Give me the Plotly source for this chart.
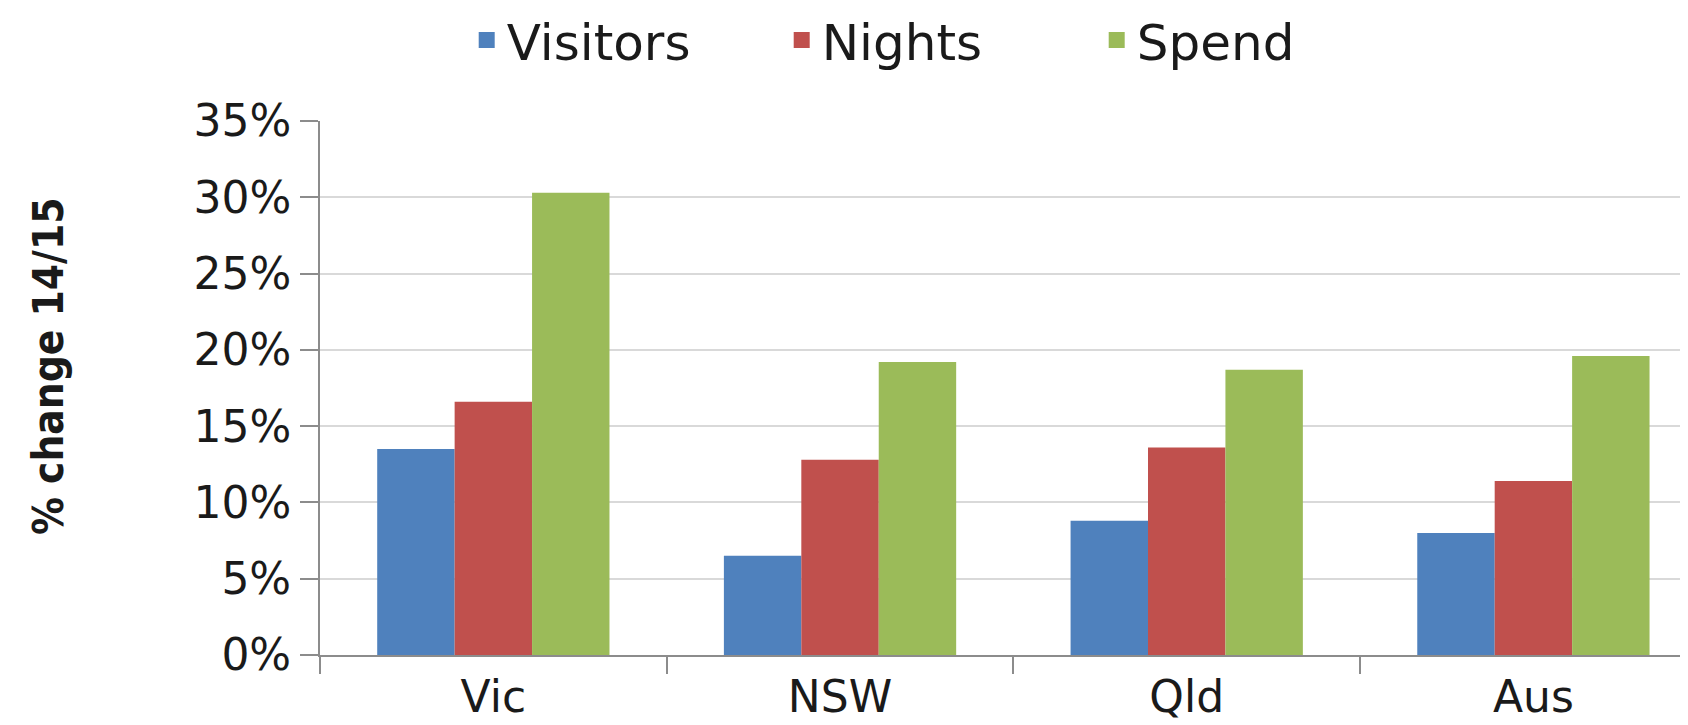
import plotly.graph_objects as go

categories = ["Vic", "NSW", "Qld", "Aus"]
series_names = ["Visitors", "Nights", "Spend"]
visitors = [0.135, 0.065, 0.088, 0.080]
nights = [0.166, 0.128, 0.136, 0.114]
spend = [0.303, 0.192, 0.187, 0.196]
colors = ["#4F81BD", "#C0504D", "#9BBB59"]
y_title = "% change 14/15"

W, H = 1688, 725
L, R, T, B = 312, 0, 113, 78

fig = go.Figure()
for name, vals, col in zip(series_names, [visitors, nights, spend], colors):
    fig.add_trace(go.Bar(x=categories, y=vals, name=name, marker=dict(color=col, line=dict(width=0)),
                         showlegend=False))
# legend proxies (bigger square swatches)
for name, col in zip(series_names, colors):
    fig.add_trace(go.Scatter(x=[None], y=[None], mode="markers", name=name,
                             marker=dict(symbol="square", size=16, color=col)))

fig.update_layout(
    width=W, height=H,
    margin=dict(l=L, r=R, t=T, b=B, autoexpand=False),
    paper_bgcolor="white", plot_bgcolor="white",
    barmode="group", bargap=0.33, bargroupgap=0,
    font=dict(family="DejaVu Sans, Liberation Sans, Arial, sans-serif", color="#1a1a1a"),
    legend=dict(orientation="h", x=0.45, xanchor="center",
                yref="container", y=1 - 32 / H, yanchor="middle",
                font=dict(size=50, color="#1a1a1a"),
                entrywidthmode="pixels", entrywidth=270,
                itemsizing="trace", traceorder="normal"),
    showlegend=True,
)

fig.update_xaxes(
    range=[-0.5, 3.469],
    showline=True, linecolor="#8c8c8c", linewidth=2,
    ticks="outside", tickson="boundaries", ticklen=17, tickwidth=2, tickcolor="#8c8c8c",
    showgrid=False,
    tickfont=dict(size=44, color="#1a1a1a"),
    ticklabelstandoff=2,
)
fig.update_yaxes(
    range=[0, 0.35], dtick=0.05, tickformat=".0%",
    showline=True, linecolor="#8c8c8c", linewidth=2,
    ticks="outside", ticklen=18, tickwidth=2, tickcolor="#8c8c8c",
    showgrid=True, gridcolor="#d9d9d9", gridwidth=2,
    zeroline=False,
    tickfont=dict(size=44, color="#1a1a1a"),
)

fig.add_annotation(
    text=y_title, textangle=-90, showarrow=False,
    xref="paper", yref="paper",
    x=(40 - L) / (W - L - R), y=(H - B - 358) / (H - B - T),
    xanchor="center", yanchor="middle",
    font=dict(family="Liberation Sans Narrow, DejaVu Sans Condensed, Arial Narrow, sans-serif",
              size=42, color="#1a1a1a", weight="bold"),
)

fig.write_html("out.html")
